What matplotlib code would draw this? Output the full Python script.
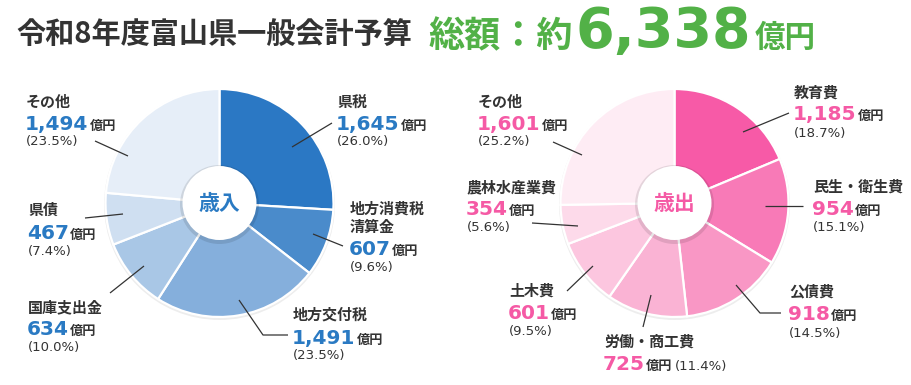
import matplotlib
matplotlib.use('Agg')
import matplotlib.pyplot as plt
from matplotlib.patches import Circle

plt.rcParams['font.family'] = ['Noto Sans CJK JP', 'DejaVu Sans']

# ---------------- data ----------------
TITLE = '令和8年度富山県一般会計予算'
TOTAL_PREFIX = '総額：約'
TOTAL_VALUE = '6,338'
UNIT = '億円'

rev_title = '歳入'
rev_labels = ['県税', '地方消費税\n清算金', '地方交付税', '国庫支出金', '県債', 'その他']
rev_values = [1645, 607, 1491, 634, 467, 1494]
rev_pcts = [26.0, 9.6, 23.5, 10.0, 7.4, 23.5]

exp_title = '歳出'
exp_labels = ['教育費', '民生・衛生費', '公債費', '労働・商工費', '土木費', '農林水産業費', 'その他']
exp_values = [1185, 954, 918, 725, 601, 354, 1601]
exp_pcts = [18.7, 15.1, 14.5, 11.4, 9.5, 5.6, 25.2]

# ---------------- style ----------------
rev_colors = ['#2b78c4', '#4a8bcb', '#85afdc', '#a9c7e6', '#cfdff1', '#e6eef8']
exp_colors = ['#f75aa7', '#f87ab7', '#f997c5', '#fab3d4', '#fcc6df', '#fddaea', '#feecf4']
BLUE = '#2a7ac3'
PINK = '#f55aa5'
GREEN = '#52b147'
DARK = '#333333'

W, H = 912, 385
fig = plt.figure(figsize=(W / 100, H / 100), dpi=100)
ax = fig.add_axes([0, 0, 1, 1])

R = 114
HOLE = 37
centers = [(219.5, 203), (674.5, 203)]

def draw_pie(center, values, colors, title, tcolor):
    cx, cy = center
    ax.add_patch(Circle((cx, cy + 1.5), R + 1.5, color='#000000', alpha=0.07, lw=0, zorder=1))
    ax.pie(values, colors=colors, startangle=-90, counterclock=True,
           center=center, radius=R,
           wedgeprops=dict(edgecolor='white', linewidth=1.6, zorder=2))
    ax.add_patch(Circle((cx, cy + 1.5), HOLE + 2.5, color='#000000', alpha=0.10, lw=0, zorder=3))
    ax.add_patch(Circle((cx, cy), HOLE, color='white', lw=0, zorder=4))
    ax.text(cx, cy, title, color=tcolor, fontsize=15, fontweight='bold',
            ha='center', va='center', zorder=5)

draw_pie(centers[0], rev_values, rev_colors, rev_title, BLUE)
draw_pie(centers[1], exp_values, exp_colors, exp_title, PINK)

ax.set_xlim(0, W)
ax.set_ylim(H, 0)
ax.set_aspect('auto')
ax.axis('off')

renderer = fig.canvas.get_renderer()
inv = ax.transData.inverted()

def right_edge(t):
    bb = t.get_window_extent(renderer)
    return inv.transform((bb.x1, bb.y0))[0]

def label(x, name, value, pct, vcolor, name_y, val_base, pct_y, inline_pct=False):
    ax.text(x, name_y, name, fontsize=10.8, fontweight='bold', color=DARK,
            ha='left', va='center', linespacing=1.15, zorder=6)
    t = ax.text(x - 1, val_base, f'{value:,}', fontsize=14.5, fontweight='bold',
                color=vcolor, ha='left', va='baseline', family='DejaVu Sans', zorder=6)
    xe = right_edge(t)
    u = ax.text(xe + 1, val_base, UNIT, fontsize=9.5, fontweight='bold', color=DARK,
                ha='left', va='baseline', zorder=6)
    ptxt = f'({pct:.1f}%)'
    if inline_pct:
        xe2 = right_edge(u)
        ax.text(xe2 + 2, val_base, ptxt, fontsize=9.5, color=DARK,
                ha='left', va='baseline', family='DejaVu Sans', zorder=6)
    else:
        ax.text(x, pct_y, ptxt, fontsize=9.5, color=DARK,
                ha='left', va='center', family='DejaVu Sans', zorder=6)

# layout: (x, name_y, value_baseline, pct_y, inline)
rev_layout = [
    (337, 102, 130, 142, False),
    (350, 218, 255, 268, False),
    (293, 315, 344, 356, False),
    (28, 307, 335, 347, False),
    (28, 210, 239, 252, False),
    (26, 102, 130, 142, False),
]
exp_layout = [
    (794, 93, 120, 133, False),
    (813, 187, 215, 227, False),
    (789, 291, 320, 333, False),
    (604, 342, 370, 0, True),
    (509, 291, 319, 332, False),
    (467, 187, 215, 228, False),
    (478, 102, 130, 142, False),
]
for lab, v, p, lay in zip(rev_labels, rev_values, rev_pcts, rev_layout):
    x, ny, vb, py, inl = lay
    label(x, lab, v, p, BLUE, ny, vb, py, inl)
for lab, v, p, lay in zip(exp_labels, exp_values, exp_pcts, exp_layout):
    x, ny, vb, py, inl = lay
    label(x, lab, v, p, PINK, ny, vb, py, inl)

# leader lines (annotation layout, pixel coords)
leaders = [
    [(332, 123), (292, 147)],
    [(343, 246), (313, 234)],
    [(288, 335), (263, 335), (239, 300)],
    [(110, 293), (144, 266)],
    [(85, 218), (123, 214)],
    [(95, 141), (128, 156)],
    [(789, 113), (743, 132)],
    [(803, 206), (765, 206)],
    [(781, 313), (760, 313), (736, 285)],
    [(643, 327), (651, 295)],
    [(567, 291), (593, 266)],
    [(532, 223), (578, 226)],
    [(553, 142), (582, 155)],
]
for pts in leaders:
    xs, ys = zip(*pts)
    ax.plot(xs, ys, color=DARK, lw=0.9, zorder=6, solid_capstyle='butt')

# title
ax.text(16, 34, TITLE, fontsize=21, fontweight='bold', color=DARK,
        ha='left', va='center')
base = 47
t1 = ax.text(428, base, TOTAL_PREFIX, fontsize=26, fontweight='bold', color=GREEN,
             ha='left', va='baseline')
x1 = right_edge(t1)
t2 = ax.text(x1 + 3, base, TOTAL_VALUE, fontsize=40, fontweight='bold', color=GREEN,
             ha='left', va='baseline', family='DejaVu Sans')
x2 = right_edge(t2)
ax.text(x2 + 4, base, UNIT, fontsize=22, fontweight='bold', color=GREEN,
        ha='left', va='baseline')

fig.savefig('out.png', dpi=100, facecolor='white')
